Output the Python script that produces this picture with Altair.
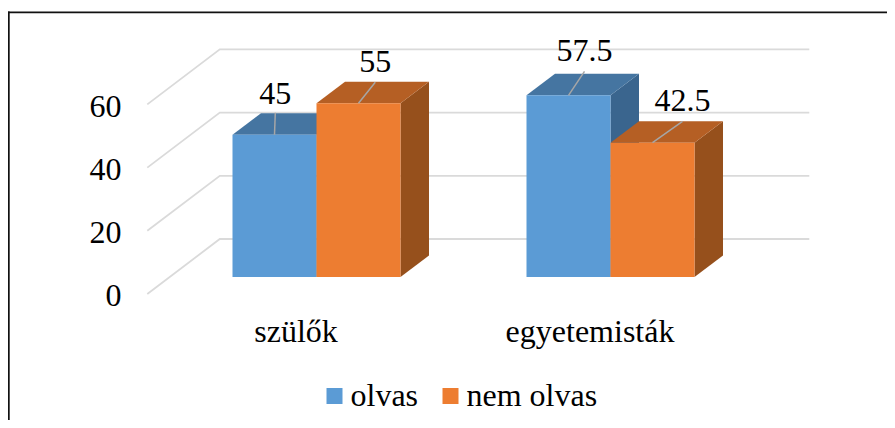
import altair as alt
import pandas as pd

categories = ["szülők", "egyetemisták"]
series = ["olvas", "nem olvas"]
olvas = [45, 57.5]
nem_olvas = [55, 42.5]
y_ticks = [0, 20, 40, 60]

FONT = "Liberation Serif"
FS = 32
COL_FRONT = ["#5B9BD5", "#ED7D31"]
COL_TOP = ["#4575A1", "#B55F24"]
COL_SIDE = ["#3A658E", "#96501C"]
GRID = "#DADADA"

# calibration of the drawing (one category step / one value unit, in pixels)
PX_X = 1 / 294
PX_Y = 1 / 3.16
X0, Y0 = 316.5, 294          # image position of (x=0, y=0)
W, H = 879, 412
BAR = 84 * PX_X
DX, DY = 28.5 * PX_X, 21.5 * PX_Y
BASE = 17 * PX_Y
WALL_L = (147.3 - X0) * PX_X
WALL_DX, WALL_DY = 72.5 * PX_X, 55 * PX_Y
WALL_R = (809.3 - X0) * PX_X

xs = alt.Scale(domain=[(8 - X0) * PX_X, (8 + W - X0) * PX_X], nice=False, zero=False)
ys = alt.Scale(domain=[(Y0 - 8 - H) * PX_Y, (Y0 - 8) * PX_Y], nice=False, zero=False)
x_axis = alt.Axis(
    values=[0, 1], title=None, grid=False, domain=False, ticks=False, labelPadding=0,
    labelExpr="['szülők','egyetemisták'][datum.value]", labelFont=FONT, labelFontSize=FS,
    labelColor="#000", labelOffset=-21, labelBaseline="alphabetic", offset=-(H - 333.7),
    labelOverlap=False, labelFlush=False)
y_axis = alt.Axis(
    values=y_ticks, title=None, grid=False, domain=False, ticks=False, labelPadding=0,
    labelFont=FONT, labelFontSize=FS, labelColor="#000", labelOffset=1.8, offset=-113,
    labelOverlap=False, labelFlush=False)
X = lambda f="x": alt.X(f"{f}:Q", scale=xs, axis=x_axis)
Y = lambda f="y": alt.Y(f"{f}:Q", scale=ys, axis=y_axis)

bars = []
for j, vals in enumerate([olvas, nem_olvas]):
    for i, v in enumerate(vals):
        x0 = i + (j - 1) * BAR
        bars.append(dict(id=f"{i}-{j}", cat=categories[i], series=series[j], value=v,
                         x0=x0, x1=x0 + BAR, y0=BASE, y1=BASE + v,
                         top=COL_TOP[j], side=COL_SIDE[j]))
bars_df = pd.DataFrame(bars)

# gridlines: along the floor/side wall, then along the back wall
grid_rows = []
for t in y_ticks:
    grid_rows += [dict(t=t, o=0, x=WALL_L, y=t),
                  dict(t=t, o=1, x=WALL_L + WALL_DX, y=t + WALL_DY),
                  dict(t=t, o=2, x=WALL_R, y=t + WALL_DY)]
grid = alt.Chart(pd.DataFrame(grid_rows)).mark_line(color=GRID, strokeWidth=1.8).encode(
    x=X(), y=Y(), detail="t:N", order="o:Q")

side_rows, top_rows = [], []
for b in bars:
    side_rows += [dict(id=b["id"], fill=b["side"], x=b["x1"], y=b["y1"], y2=b["y0"]),
                  dict(id=b["id"], fill=b["side"], x=b["x1"] + DX, y=b["y1"] + DY, y2=b["y0"] + DY)]
    top_rows += [dict(id=b["id"], fill=b["top"], y=b["y1"], x=b["x0"], x2=b["x1"]),
                 dict(id=b["id"], fill=b["top"], y=b["y1"] + DY, x=b["x0"] + DX, x2=b["x1"] + DX)]

sides = alt.Chart(pd.DataFrame(side_rows)).mark_area(orient="vertical").encode(
    x=X(), y=Y(), y2="y2:Q", detail="id:N", fill=alt.Fill("fill:N", scale=None, legend=None))
tops = alt.Chart(pd.DataFrame(top_rows)).mark_area(orient="horizontal").encode(
    y=Y(), x=X(), x2="x2:Q", detail="id:N", fill=alt.Fill("fill:N", scale=None, legend=None))

fronts = alt.Chart(bars_df).mark_rect().encode(
    x=X("x0"), x2="x1:Q", y=Y("y0"), y2="y1:Q",
    color=alt.Color("series:N", scale=alt.Scale(domain=series, range=COL_FRONT),
                    legend=alt.Legend(
                        title=None, orient="none", legendX=310.5, legendY=372, columns=2,
                        direction="horizontal", symbolType="square", symbolSize=256,
                        symbolStrokeWidth=0, labelFont=FONT, labelFontSize=FS, labelColor="#000",
                        labelOffset=0, columnPadding=16, padding=0, labelLimit=400)))

# leader lines and value labels (offsets from the centre of each bar's top edge, in pixels)
label_off = [(0.8, 31, 22), (16.8, 31, 21), (16, 34, 24), (30, 31.3, 21.3)]
lead_rows, lab_rows = [], []
for n, (b, (ox, ly, lh)) in enumerate(zip(bars_df.sort_values(["cat", "x0"], ascending=[False, True]).to_dict("records"),
                                          label_off)):
    cx = (b["x0"] + b["x1"]) / 2
    lead_rows += [dict(n=n, o=0, x=cx, y=b["y1"]),
                  dict(n=n, o=1, x=cx + ox * PX_X, y=b["y1"] + lh * PX_Y)]
    lab_rows.append(dict(x=cx + ox * PX_X, y=b["y1"] + ly * PX_Y, value=b["value"]))

leaders = alt.Chart(pd.DataFrame(lead_rows)).mark_line(color="#A6A6A6", strokeWidth=1.5).encode(
    x=X(), y=Y(), detail="n:N", order="o:Q")
labels = alt.Chart(pd.DataFrame(lab_rows)).mark_text(
    font=FONT, fontSize=FS, color="#000", align="center", baseline="alphabetic").encode(
    x=X(), y=Y(), text=alt.Text("value:Q", format="~g"))

frame_top = alt.Chart().mark_rule(color="#111", strokeWidth=1.8).encode(
    x=alt.value(0), x2=alt.value(W), y=alt.value(4.3))
frame_left = alt.Chart().mark_rule(color="#111", strokeWidth=1.8).encode(
    x=alt.value(0.8), y=alt.value(3.4), y2=alt.value(H))

chart = alt.layer(frame_top, frame_left, grid, sides, tops, fronts, leaders, labels).resolve_scale(
    color="independent", fill="independent"
).properties(width=W, height=H, padding=0, autosize=alt.AutoSizeParams(type="none"),
             background="white").configure_view(stroke=None)

chart.save("out.html", embed_options={"renderer": "svg", "actions": False})
